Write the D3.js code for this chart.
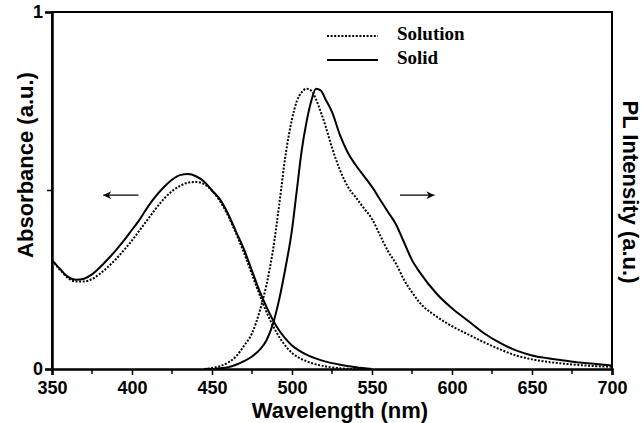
<!DOCTYPE html>
<html>
<head>
<meta charset="utf-8">
<script src="https://cdn.jsdelivr.net/npm/d3@7/dist/d3.min.js"></script>
<style>
  html, body { margin: 0; padding: 0; background: #fff; }
  svg { display: block; }
  .tick-lbl { font-family: "Liberation Sans Narrow", "Arial Narrow", "Liberation Sans", Arial, sans-serif; font-weight: bold; font-size: 18px; }
  .title { font-family: "Liberation Sans", Arial, sans-serif; font-weight: bold; font-size: 22px; }
  .legend { font-family: "Liberation Serif", "Times New Roman", serif; font-weight: bold; font-size: 19px; }
</style>
</head>
<body>
<svg id="chart" width="642" height="423"></svg>
<script>
(function() {
  'use strict';

  // absorbance, nm
  var absWavelength = [350, 355, 360, 365, 370, 375, 380, 385, 390, 395, 400, 405, 410, 415, 420,
    425, 430, 435, 440, 445, 450, 455, 460, 465, 470, 475, 480, 485, 490, 495, 500, 505, 510,
    520, 530, 540, 550];
  var absSolid = [0.305, 0.28, 0.258, 0.25, 0.253, 0.265, 0.285, 0.308, 0.333, 0.36, 0.39, 0.42,
    0.455, 0.485, 0.51, 0.53, 0.543, 0.546, 0.54, 0.525, 0.5, 0.475, 0.435, 0.385, 0.335, 0.275,
    0.215, 0.165, 0.122, 0.09, 0.066, 0.05, 0.038, 0.022, 0.012, 0.005, 0];
  var absSolution = [0.305, 0.278, 0.255, 0.245, 0.245, 0.252, 0.267, 0.286, 0.308, 0.333, 0.36,
    0.39, 0.42, 0.45, 0.477, 0.498, 0.513, 0.522, 0.524, 0.518, 0.5, 0.47, 0.43, 0.38, 0.325,
    0.265, 0.205, 0.15, 0.105, 0.07, 0.045, 0.03, 0.02, 0.008, 0.002, 0, 0];

  // photoluminescence, nm
  var plWavelength = [445, 450, 455, 460, 465, 470, 475, 480, 484, 488, 492, 496, 500, 503, 506,
    509, 512, 515, 518, 521, 525, 530, 535, 540, 545, 550, 555, 560, 565, 570, 575, 580, 590, 600,
    610, 620, 630, 640, 650, 660, 670, 680, 690, 700];
  var plSolution = [0, 0.003, 0.008, 0.018, 0.035, 0.065, 0.1, 0.165, 0.235, 0.33, 0.46, 0.6, 0.7,
    0.75, 0.775, 0.785, 0.78, 0.755, 0.72, 0.68, 0.62, 0.557, 0.51, 0.48, 0.45, 0.42, 0.375, 0.33,
    0.295, 0.25, 0.215, 0.185, 0.148, 0.12, 0.097, 0.075, 0.055, 0.038, 0.027, 0.02, 0.015, 0.011,
    0.008, 0.006];
  var plSolid = [0, 0, 0.002, 0.005, 0.012, 0.022, 0.035, 0.055, 0.08, 0.125, 0.195, 0.285, 0.39,
    0.5, 0.61, 0.69, 0.75, 0.785, 0.78, 0.755, 0.72, 0.655, 0.605, 0.57, 0.54, 0.51, 0.475, 0.44,
    0.405, 0.355, 0.305, 0.27, 0.213, 0.17, 0.135, 0.1, 0.073, 0.052, 0.038, 0.03, 0.024, 0.018,
    0.014, 0.01];

  var xTicks = [350, 400, 450, 500, 550, 600, 650, 700];
  var xMinorTicks = [375, 425, 475, 525, 575, 625, 675];
  var yTicks = [0, 1];
  var yMinorTicks = [0.5];
  var legendItems = ['Solution', 'Solid'];

  var svg = d3.select('#chart');
  var m = { left: 52, right: 30, top: 12, bottom: 54 },
    W = 642, H = 423;

  var x = d3.scaleLinear().domain([350, 700]).range([m.left, W - m.right]);
  var y = d3.scaleLinear().domain([0, 1]).range([H - m.bottom, m.top]);

  var line = d3.line()
    .x(function(d) { return x(d[0]); })
    .y(function(d) { return y(d[1]); })
    .curve(d3.curveMonotoneX);

  function pairs(xs, ys) {
    return xs.map(function(v, i) { return [v, ys[i]]; });
  }

  var dotted = '2,1.6';
  var curves = [
    { d: pairs(absWavelength, absSolution), dash: dotted },
    { d: pairs(absWavelength, absSolid), dash: null },
    { d: pairs(plWavelength, plSolution), dash: dotted },
    { d: pairs(plWavelength, plSolid), dash: null }
  ];

  svg.append('g').selectAll('path')
    .data(curves)
    .join('path')
    .attr('d', function(c) { return line(c.d); })
    .attr('fill', 'none')
    .attr('stroke', '#000')
    .attr('stroke-width', 2)
    .attr('stroke-dasharray', function(c) { return c.dash; });

  // frame
  svg.append('path')
    .attr('d', 'M' + x(350) + ',' + y(0) + 'V' + y(1) + 'H' + x(700) + 'V' + y(0))
    .attr('fill', 'none').attr('stroke', '#000').attr('stroke-width', 2);

  // bottom axis
  var gx = svg.append('g').attr('transform', 'translate(0,' + y(0) + ')')
    .call(d3.axisBottom(x).tickValues(xTicks).tickSize(6).tickPadding(6));
  gx.append('g').selectAll('line').data(xMinorTicks).join('line')
    .attr('x1', x).attr('x2', x).attr('y2', 5).attr('stroke', '#000').attr('stroke-width', 1.5);

  // left axis
  var gy = svg.append('g').attr('transform', 'translate(' + x(350) + ',0)')
    .call(d3.axisLeft(y).tickValues(yTicks).tickFormat(d3.format('d')).tickSize(7).tickPadding(2));
  gy.append('g').selectAll('line').data(yMinorTicks).join('line')
    .attr('y1', y).attr('y2', y).attr('x2', -5).attr('stroke', '#000').attr('stroke-width', 1.5);

  [gx, gy].forEach(function(g) {
    g.select('.domain').attr('stroke-width', 2.5);
    g.selectAll('.tick line').attr('stroke-width', 1.5);
    g.selectAll('.tick text').attr('class', 'tick-lbl').attr('fill', '#000').attr('font-size', null).attr('font-family', null);
    g.attr('font-size', null).attr('font-family', null);
  });

  // axis titles
  svg.append('text').attr('class', 'title')
    .attr('x', 340).attr('y', 418).attr('text-anchor', 'middle')
    .text('Wavelength (nm)');
  svg.append('text').attr('class', 'title')
    .attr('transform', 'translate(33,165) rotate(-90)').attr('text-anchor', 'middle')
    .text('Absorbance (a.u.)');
  svg.append('text').attr('class', 'title')
    .attr('transform', 'translate(623,192) rotate(90)').attr('text-anchor', 'middle')
    .text('PL Intensity (a.u.)');

  // arrows pointing to each axis
  svg.append('defs').append('marker')
    .attr('id', 'head')
    .attr('viewBox', '0 -5 10 10')
    .attr('refX', 10)
    .attr('markerWidth', 11)
    .attr('markerHeight', 8)
    .attr('markerUnits', 'userSpaceOnUse')
    .attr('orient', 'auto')
    .append('path')
    .attr('d', 'M0,-5L10,0L0,5L3,0z');

  var arrows = [[404, 382], [567.5, 589]];
  svg.append('g').selectAll('line').data(arrows).join('line')
    .attr('x1', function(a) { return x(a[0]); })
    .attr('x2', function(a) { return x(a[1]); })
    .attr('y1', y(0.487)).attr('y2', y(0.487))
    .attr('stroke', '#000').attr('stroke-width', 1.2)
    .attr('marker-end', 'url(#head)');

  // legend
  var lg = svg.append('g').attr('transform', 'translate(327,36)');
  var item = lg.selectAll('g').data(legendItems).join('g')
    .attr('transform', function(d, i) { return 'translate(0,' + i * 24 + ')'; });
  item.append('line')
    .attr('x2', 51)
    .attr('stroke', '#000').attr('stroke-width', 2)
    .attr('stroke-dasharray', function(d, i) { return i === 0 ? dotted : null; });
  item.append('text').attr('class', 'legend')
    .attr('x', 70).attr('y', 4)
    .text(function(d) { return d; });
})();
</script>
</body>
</html>
